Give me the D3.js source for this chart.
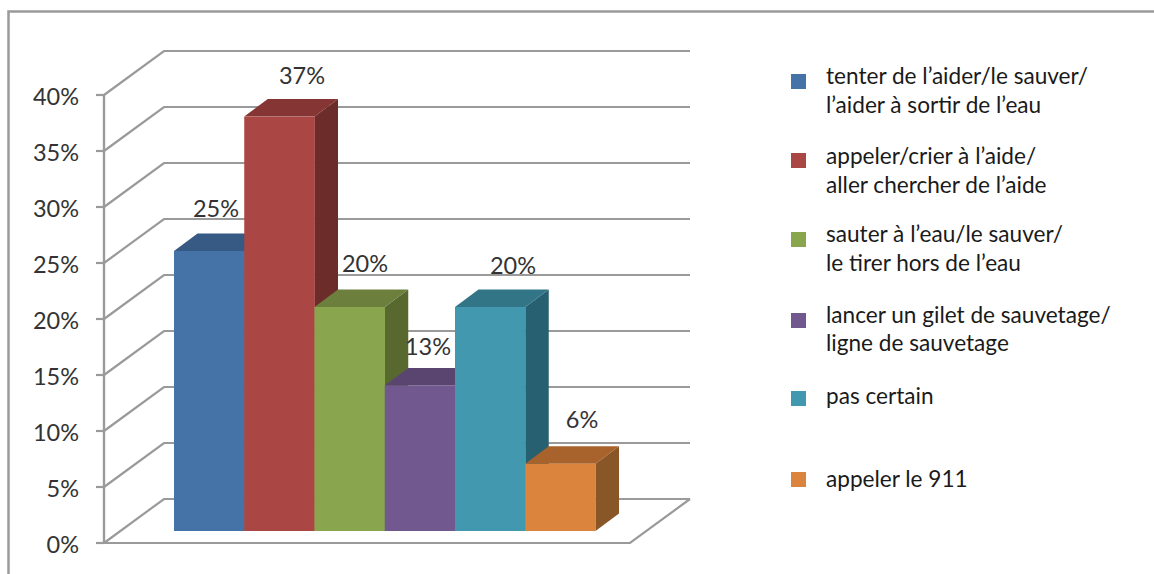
<!DOCTYPE html>
<html><head><meta charset="utf-8">
<style>html,body{margin:0;padding:0;background:#fff;overflow:hidden}svg{display:block}text{font-family:Lato,"Open Sans",sans-serif}</style>
<script src="https://cdn.jsdelivr.net/npm/d3@7"></script></head>
<body><svg id="c" width="1154" height="574"></svg>
<script>
const categories = ["tenter de l’aider/le sauver/|l’aider à sortir de l’eau","appeler/crier à l’aide/|aller chercher de l’aide","sauter à l’eau/le sauver/|le tirer hors de l’eau","lancer un gilet de sauvetage/|ligne de sauvetage","pas certain","appeler le 911"];
const values = [25,37,20,13,20,6];
const frontColors = ["#4572A7","#AA4643","#89A54E","#71588F","#4198AF","#DB843D"];
const topColors = ["#375A85","#853533","#6C7F3C","#5A4571","#317587","#A8632C"];
const sideColors = ["#2E4B70","#6C2C2A","#58682F","#49385C","#276070","#895627"];
const yTicks = [0,5,10,15,20,25,30,35,40];
const labelPos = [[216,217],[302,84],[365,272],[428,355],[513,274],[582,428]];
const legendSwatchY = [74,153,232,313,391,472];
const legendBaseline = [[84,113],[164,193],[242,271],[323,351],[404],[487]];

const svg = d3.select("#c");
const lineCol = "#9a9a9a";
const y = d3.scaleLinear().domain([0,40]).range([543,95]);
const x = d3.scaleBand().domain(d3.range(values.length)).range([174,595.5]);
const backDx = 60, backDy = -44, rightX = 690, axisX = 104, floorRight = 630;
const barBase = 531, depthX = 23.5, depthY = -17.5;
const h = v => y(0) - y(v);

// frame
svg.append("path").attr("d","M8.5,574V11.5H1154").attr("fill","none").attr("stroke",lineCol).attr("stroke-width",2.5);

// walls and gridlines
const line = d3.line();
svg.append("g").selectAll("path").data(yTicks).join("path")
  .attr("d",t => line([[axisX,y(t)],[axisX+backDx,y(t)+backDy],[rightX,y(t)+backDy]]))
  .attr("fill","none").attr("stroke",lineCol).attr("stroke-width",2.2);
// floor
svg.append("path").attr("d",line([[axisX,y(0)],[floorRight,y(0)],[rightX,y(0)+backDy]]))
  .attr("fill","none").attr("stroke",lineCol).attr("stroke-width",2.2);
// axis
svg.append("path").attr("d",line([[axisX,y(40)],[axisX,y(0)]])).attr("stroke",lineCol).attr("stroke-width",2.4);
svg.append("g").selectAll("line").data(yTicks).join("line")
  .attr("x1",96).attr("x2",axisX).attr("y1",t=>y(t)).attr("y2",t=>y(t)).attr("stroke",lineCol).attr("stroke-width",2.2);
svg.append("g").selectAll("text").data(yTicks).join("text")
  .attr("x",79).attr("y",t=>y(t)+9.5).attr("text-anchor","end").attr("font-size",23.5).attr("fill","#333")
  .text(t=>t+"%");

// bars
const bars = svg.append("g").selectAll("g").data(values).join("g");
bars.append("polygon").attr("fill",(d,i)=>sideColors[i]).attr("points",(d,i)=>{
  const r = x(i)+x.bandwidth(), t = barBase-h(d);
  return [[r,t],[r+depthX,t+depthY],[r+depthX,barBase+depthY],[r,barBase]].join(" ");
});
bars.append("polygon").attr("fill",(d,i)=>topColors[i]).attr("points",(d,i)=>{
  const l = x(i), r = l+x.bandwidth(), t = barBase-h(d);
  return [[l,t],[l+depthX,t+depthY],[r+depthX,t+depthY],[r,t]].join(" ");
});
bars.append("rect").attr("fill",(d,i)=>frontColors[i])
  .attr("x",(d,i)=>x(i)).attr("width",x.bandwidth()+0.3)
  .attr("y",d=>barBase-h(d)).attr("height",d=>h(d));

// data labels
svg.append("g").selectAll("text").data(values).join("text")
  .attr("x",(d,i)=>labelPos[i][0]).attr("y",(d,i)=>labelPos[i][1])
  .attr("text-anchor","middle").attr("font-size",23.5).attr("fill","#333").text(d=>d+"%");

// legend
const lg = svg.append("g").selectAll("g").data(categories).join("g");
lg.append("rect").attr("x",791).attr("width",15).attr("height",15)
  .attr("y",(d,i)=>legendSwatchY[i]).attr("fill",(d,i)=>frontColors[i]);
lg.each(function(d,i){
  const g = d3.select(this);
  d.split("|").forEach((s,k)=>{
    g.append("text").attr("x",826).attr("y",legendBaseline[i][k])
      .attr("font-size",22.6).attr("fill","#1a1a1a").text(s);
  });
});
</script></body></html>
